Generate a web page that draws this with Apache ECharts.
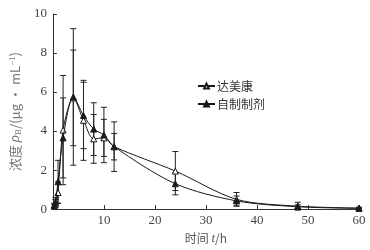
<!DOCTYPE html>
<html><head><meta charset="utf-8">
<script src="https://cdn.jsdelivr.net/npm/echarts@6/dist/echarts.min.js"></script>
<style>html,body{margin:0;padding:0;background:#fff}#c{width:370px;height:250px}</style>
</head><body><div id="c"></div>
<script>
var times = [0.25, 0.5, 1, 2, 4, 6, 8, 10, 12, 24, 36, 48, 60];
var seriesNames = ['达美康', '自制制剂'];
var damei = [0.2, 0.3, 0.85, 4.05, 5.7, 4.55, 3.6, 3.65, 3.2, 1.95, 0.5, 0.15, 0.05];
var dameiSd = [0.1, 0.2, 0.55, 2.8, 2.45, 2.05, 1.25, 0.95, 0.68, 1.0, 0.35, 0.2, 0.05];
var zizhi = [0.15, 0.35, 1.4, 3.65, 5.75, 4.8, 4.1, 3.8, 3.2, 1.3, 0.42, 0.12, 0.04];
var zizhiSd = [0.1, 0.25, 1.1, 2.05, 3.5, 1.7, 1.35, 1.42, 1.27, 0.57, 0.25, 0.1, 0.03];
var xTicks = [0, 10, 20, 30, 40, 50, 60];
var yTicks = [0, 2, 4, 6, 8, 10];

function pts(v){ return times.map(function(t,i){ return [t, v[i]]; }); }
function errs(v, sd){ return times.map(function(t,i){ return [t, v[i]-sd[i], v[i]+sd[i]]; }); }

var lineColor = '#1a1a1a';
function errSeries(data){
  return {
    type: 'custom', silent: true, z: 1,
    data: data,
    renderItem: function(params, api){
      var x = api.value(0);
      var lo = api.coord([x, api.value(1)]);
      var hi = api.coord([x, api.value(2)]);
      var w = 3;
      var st = {stroke: '#222', lineWidth: 1};
      return {type: 'group', children: [
        {type: 'line', shape: {x1: lo[0], y1: lo[1], x2: hi[0], y2: hi[1]}, style: st},
        {type: 'line', shape: {x1: lo[0]-w, y1: lo[1], x2: lo[0]+w, y2: lo[1]}, style: st},
        {type: 'line', shape: {x1: hi[0]-w, y1: hi[1], x2: hi[0]+w, y2: hi[1]}, style: st}
      ]};
    }
  };
}

var chart = echarts.init(document.getElementById('c'), null, {renderer: 'canvas'});
chart.setOption({
  animation: false,
  textStyle: {fontFamily: 'Liberation Serif'},
  grid: {left: 44, right: 11, top: 14, bottom: 40, containLabel: false},
  legend: {
    left: 192, top: 75, orient: 'vertical', itemGap: 6,
    itemWidth: 17, itemHeight: 6,
    textStyle: {fontFamily: 'Noto Sans CJK SC', fontSize: 12, color: '#333', padding: [0,0,0,-3]},
    data: seriesNames
  },
  xAxis: {
    type: 'value', min: xTicks[0], max: xTicks[xTicks.length-1], interval: 10,
    name: '时间 {i|t}/h', nameLocation: 'middle', nameGap: 22,
    nameTextStyle: {fontFamily: 'Noto Sans CJK SC', fontSize: 12, color: '#555',
      rich: {i: {fontFamily: 'Liberation Serif', fontStyle: 'italic', fontSize: 13, color: '#555'}}},
    axisLine: {lineStyle: {color: '#333', width: 1}},
    axisTick: {inside: true, length: 4, lineStyle: {color: '#333'}},
    axisLabel: {fontSize: 13, color: '#444', margin: 5, fontFamily: 'Liberation Serif',
      formatter: function(v){ return v === 0 ? '' : v; }},
    splitLine: {show: false}
  },
  yAxis: {
    type: 'value', min: yTicks[0], max: yTicks[yTicks.length-1], interval: 2,
    name: '浓度 {i|ρ}{sub|B}/(μg • mL{sup|−1})', nameLocation: 'middle', nameGap: 29, nameRotate: 90,
    nameTextStyle: {fontFamily: 'Noto Sans CJK SC', fontSize: 13, color: '#777',
      rich: {
        i: {fontFamily: 'Liberation Serif', fontStyle: 'italic', fontSize: 15, color: '#777'},
        sub: {fontFamily: 'Liberation Serif', fontSize: 9, color: '#777', verticalAlign: 'bottom', padding: [6,0,0,0]},
        sup: {fontFamily: 'Liberation Serif', fontSize: 9, color: '#777', verticalAlign: 'top', padding: [0,0,6,0]}
      }},
    axisLine: {show: true, lineStyle: {color: '#333', width: 1}},
    axisTick: {show: true, inside: true, length: 4, lineStyle: {color: '#333'}},
    axisLabel: {fontSize: 13, color: '#444', margin: 6, fontFamily: 'Liberation Serif'},
    splitLine: {show: false}
  },
  series: [
    errSeries(errs(damei, dameiSd)),
    errSeries(errs(zizhi, zizhiSd)),
    {
      name: seriesNames[0], type: 'line', data: pts(damei), smooth: 0.3, z: 3,
      symbol: 'triangle', symbolSize: 6,
      lineStyle: {color: lineColor, width: 1},
      itemStyle: {color: '#fff', borderColor: lineColor, borderWidth: 1}
    },
    {
      name: seriesNames[1], type: 'line', data: pts(zizhi), smooth: 0.3, z: 4,
      symbol: 'triangle', symbolSize: 6,
      lineStyle: {color: lineColor, width: 1},
      itemStyle: {color: lineColor, borderColor: lineColor, borderWidth: 1}
    }
  ]
});
</script></body></html>
